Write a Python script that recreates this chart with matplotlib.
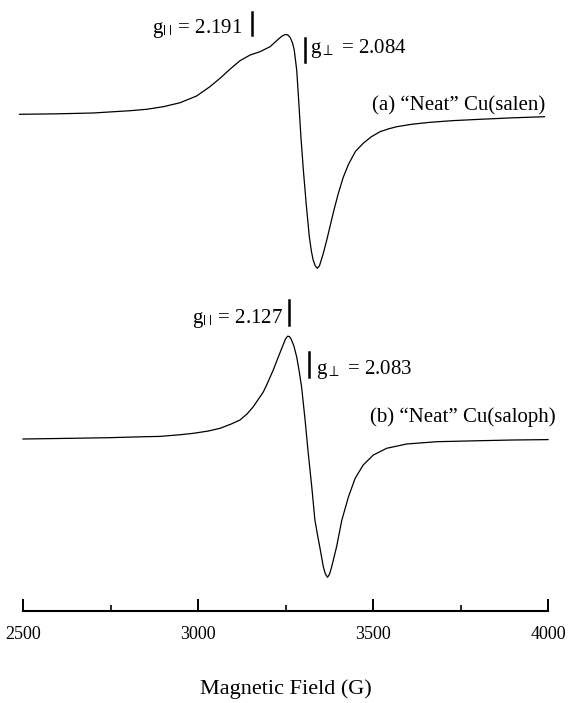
import matplotlib
matplotlib.use("Agg")
import matplotlib.pyplot as plt

plt.rcParams["font.family"] = ["Liberation Serif", "DejaVu Serif"]
plt.rcParams["mathtext.fontset"] = "stix"

# EPR derivative spectra (field in G, amplitude in arb. units)
field_salen = [2490, 2600, 2700, 2806, 2853, 2901, 2949, 2996, 3034, 3063,
               3091, 3120, 3149, 3177, 3206, 3229, 3240, 3249, 3256, 3263,
               3270, 3275, 3282, 3287, 3294, 3301, 3309, 3318, 3324, 3329,
               3335, 3341, 3347, 3352, 3358, 3367, 3377, 3389, 3401, 3415,
               3430, 3450, 3472, 3495, 3520, 3545, 3568, 3610, 3663, 3730,
               3806, 3900, 3990]
amp_salen = [0, 0.5, 1.3, 3.6, 5, 7.6, 11.6, 18.3, 27.6, 36,
             45, 53.6, 59.3, 62.6, 67.6, 75, 78.2, 79.8, 79.5, 77,
             71.5, 64.3, 44.3, 17.6, -22.4, -55.7, -89, -122.4, -137, -145.7,
             -151.5, -154, -151.5, -146, -139, -127, -112.4, -95, -79, -63,
             -50, -37, -29, -22.5, -17.4, -14.5, -12.4, -10, -8, -6.3,
             -5, -3.5, -2.4]

field_saloph = [2500, 2640, 2745, 2850, 2891, 2950, 2987, 3030, 3063, 3095,
                3120, 3140, 3158, 3172, 3187, 3200, 3215, 3225, 3234, 3243,
                3250, 3256, 3261, 3266, 3274, 3282, 3289, 3296, 3306, 3315,
                3325, 3334, 3342, 3349, 3358, 3364, 3370, 3376, 3382, 3396,
                3411, 3430, 3449, 3472, 3501, 3539, 3596, 3682, 3806, 3900,
                4000]
amp_saloph = [0, 0.7, 1.3, 2.3, 2.6, 4.3, 5.7, 8, 10.7, 15,
              19, 25, 32.3, 39.5, 47.3, 57, 69, 78, 86, 94,
              100, 102.8, 102.5, 100, 93, 82, 68, 52, 19, -14.3,
              -47.7, -81, -97, -110, -127.7, -135, -138.3, -135, -127.7, -107.7,
              -81, -57.7, -39.3, -26, -16, -9.3, -5, -2.7, -1.7, -1,
              -0.6]

# g-value marker positions (G) and labels
g_par_field = [3154, 3260]
g_perp_field = [3306, 3318]
g_par_text = [r"g$_{|\;|}$ = 2.191", r"g$_{|\;|}$ = 2.127"]
g_perp_text = [r"g$_{\bot}$ = 2.084", r"g$_{\bot}$ = 2.083"]
sample_labels = ["(a) \u201cNeat\u201d Cu(salen)", "(b) \u201cNeat\u201d Cu(saloph)"]

major_ticks = [2500, 3000, 3500, 4000]
minor_ticks = [2750, 3250, 3750]

W, H = 571, 703
fig = plt.figure(figsize=(W / 100, H / 100), dpi=100)
ax = fig.add_axes([23 / W, (H - 611) / H, 525 / W, 611 / H])
ax.set_xlim(2500, 4000)
ax.set_ylim(0, 611)

off_a, off_b = 496.7, 172
ax.plot(field_salen, [off_a + v for v in amp_salen], color="black", lw=0.9, clip_on=False)
ax.plot(field_saloph, [off_b + v for v in amp_saloph], color="black", lw=0.9, clip_on=False)

# marker bars
bar_spans = [((576, 599), (549, 573)), ((286, 311), (234, 259))]
for i in range(2):
    (p0, p1), (q0, q1) = bar_spans[i]
    ax.plot([g_par_field[i]] * 2, [p0, p1], color="black", lw=1.8, clip_on=False)
    ax.plot([g_perp_field[i]] * 2, [q0, q1], color="black", lw=1.8, clip_on=False)

fs = 15
ax.text(3126, 578, g_par_text[0], fontsize=fs, ha="right", va="baseline")
ax.text(3320, 558, g_perp_text[0], fontsize=fs, ha="left", va="baseline")
ax.text(3243, 288, g_par_text[1], fontsize=fs, ha="right", va="baseline")
ax.text(3337, 237, g_perp_text[1], fontsize=fs, ha="left", va="baseline")
ax.text(3991, 501, sample_labels[0], fontsize=fs, ha="right", va="baseline")
ax.text(4023, 189, sample_labels[1], fontsize=fs, ha="right", va="baseline", clip_on=False)

for s in ["top", "right", "left"]:
    ax.spines[s].set_visible(False)
ax.spines["bottom"].set_linewidth(1.5)
ax.set_yticks([])
ax.set_xticks(major_ticks)
ax.set_xticks(minor_ticks, minor=True)
ax.tick_params(axis="x", which="major", direction="in", length=9, width=1.4,
               labelsize=13, pad=11)
ax.tick_params(axis="x", which="minor", direction="in", length=4.5, width=1.2)

ax.set_xlabel("Magnetic Field (G)", fontsize=16)
ax.xaxis.set_label_coords(0.5, -78 / 611)
ax.xaxis.label.set_va("center")

fig.savefig("out.png", dpi=100)
